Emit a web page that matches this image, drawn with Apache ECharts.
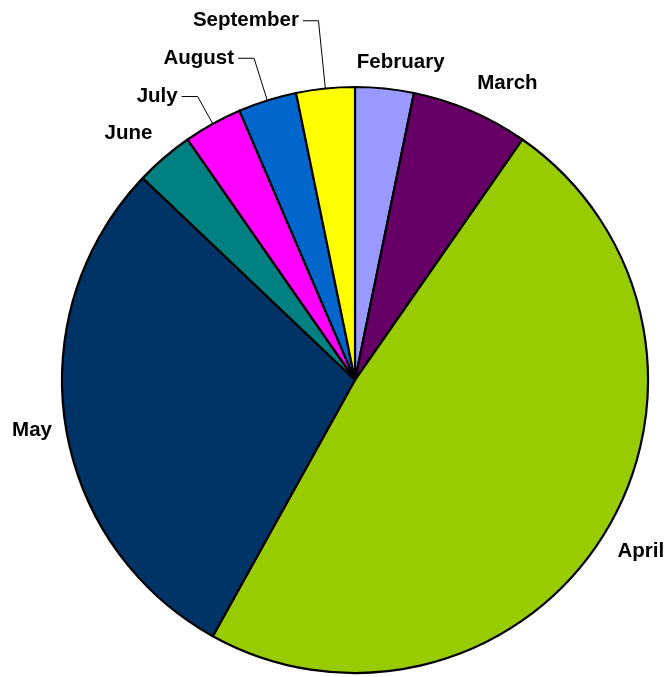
<!DOCTYPE html>
<html><head><meta charset="utf-8">
<script src="https://cdn.jsdelivr.net/npm/echarts@6/dist/echarts.min.js"></script>
<style>html,body{margin:0;padding:0;background:#fff}#c{width:665px;height:677px}</style>
</head><body><div id="c"></div>
<script>
const categories = ['February','March','April','May','June','July','August','September'];
const values = [1, 2, 15, 9, 1, 1, 1, 1];
const colors = ['#9999FF','#660066','#99CC00','#003366','#008080','#FF00FF','#0066CC','#FFFF00'];
// label placement (styling only)
const lineShow = [false, false, false, false, false, true, true, true];
const lineLen  = [26.6, 29.4, 30.4, 41, 31.9, 31.2, 44.2, 68.1];
const lineLen2 = [-34.5, -8.9, -16, -31.1, -13, 16, 16, 15.6];

const data = categories.map((name, i) => ({
  name: name,
  value: values[i],
  itemStyle: { color: colors[i] },
  labelLine: { show: lineShow[i], length: lineLen[i], length2: lineLen2[i] }
}));

const chart = echarts.init(document.getElementById('c'), null, { renderer: 'canvas' });
chart.setOption({
  animation: false,
  backgroundColor: '#ffffff',
  series: [{
    type: 'pie',
    center: [355, 380],
    radius: 293,
    startAngle: 90,
    clockwise: true,
    avoidLabelOverlap: false,
    minShowLabelAngle: 0,
    silent: true,
    itemStyle: { borderColor: '#000000', borderWidth: 2.2 },
    label: {
      show: true,
      position: 'outside',
      formatter: '{b}',
      color: '#000000',
      fontFamily: 'Liberation Sans, Arial, sans-serif',
      fontWeight: 'bold',
      fontSize: 20.5,
      distanceToLabelLine: 4
    },
    labelLine: { lineStyle: { color: '#000000', width: 1 }, smooth: false },
    emphasis: { disabled: true },
    data: data
  }]
});
</script>
</body></html>
